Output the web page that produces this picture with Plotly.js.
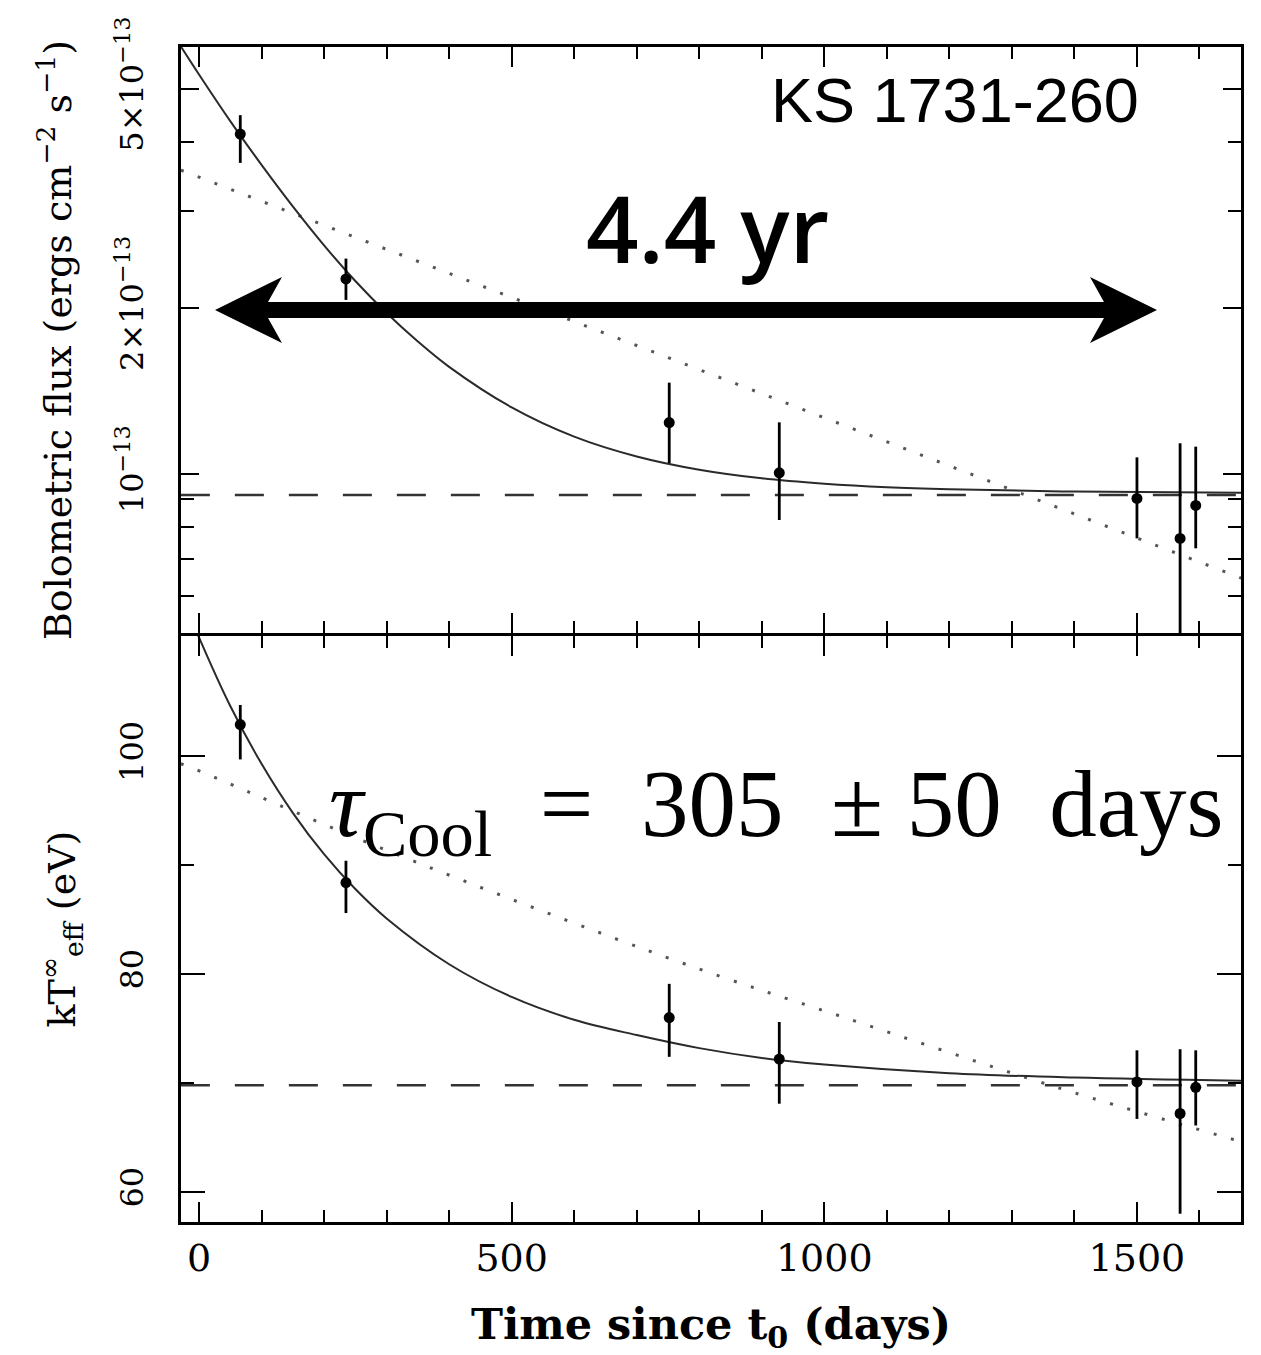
<!DOCTYPE html>
<html><head><meta charset="utf-8">
<script src="https://cdn.plot.ly/plotly-3.0.1.min.js"></script>
<style>html,body{margin:0;padding:0;background:#fff}#chart{width:1261px;height:1355px}</style>
</head><body><div id="chart"></div>
<script>
// ---- data (flux in units of 1e-13 erg cm^-2 s^-1, temperature in eV, time in days) ----
const FLUX_UNIT = 1e-13;
const obsDays   = [66, 235, 752, 928, 1500, 1569, 1594];
const fluxVal   = [4.14, 2.26, 1.24, 1.005, 0.903, 0.764, 0.877];
const fluxHi    = [4.48, 2.46, 1.465, 1.241, 1.072, 1.137, 1.121];
const fluxLo    = [3.67, 2.07, 1.046, 0.825, 0.764, 0.50, 0.733];
const tempVal   = [102.9, 88.4, 76.0, 72.2, 70.1, 67.2, 69.6];
const tempHi    = [104.7, 90.4, 79.1, 75.6, 73.0, 73.1, 73.0];
const tempLo    = [99.7, 85.6, 72.4, 68.1, 66.7, 58.0, 66.1];

// exponential-decay-to-constant fit curves
const fluxFitDays = [-29, 0, 50, 100, 150, 200, 250, 300, 350, 400, 500, 600, 700, 800, 900, 1000, 1100, 1200, 1400, 1667];
const fluxFit     = [5.97, 5.31, 4.37, 3.64, 3.06, 2.60, 2.24, 1.96, 1.74, 1.565, 1.321, 1.169, 1.076, 1.018, 0.982, 0.960, 0.946, 0.938, 0.929, 0.925];
const tempFitDays = [-5, 0, 50, 100, 150, 200, 250, 300, 400, 500, 600, 700, 800, 900, 1000, 1200, 1400, 1667];
const tempFit     = [111.6, 110.9, 104.6, 99.3, 94.8, 91.0, 87.8, 85.1, 80.9, 77.9, 75.8, 74.4, 73.2, 72.3, 71.7, 70.9, 70.5, 70.2];

// simple exponential (dotted) curves
const fluxExpDays = [-29, 1667];
const fluxExp     = [3.56, 0.647];
const tempExpDays = [-29, -9, 300, 769, 1022, 1372, 1667];
const tempExp     = [99.3, 98.87, 91.36, 81.09, 76.2, 69.6, 64.6];

// quiescent (dashed) levels
const baseDays = [-29, 1667];
const fluxBase = 0.916;
const tempBase = 69.8;

// axis ticks
const xMajor = [0, 500, 1000, 1500];
const fluxTickVals = [1, 2, 5];
const fluxTickText = ['10<sup>−13</sup>', '2×10<sup>−13</sup>', '5×10<sup>−13</sup>'];
const fluxMinorVals = [0.6, 0.7, 0.8, 0.9, 3, 4];
const tempTickVals = [60, 80, 100];
const tempMinorVals = [70, 90];

// ---- traces ----
const u = v => v.map(a => a * FLUX_UNIT);
const lineCol = '#2a2a2a';
const traces = [
  {x: fluxExpDays, y: u(fluxExp), xaxis:'x', yaxis:'y', mode:'lines', line:{color:'#555', width:3, dash:'3px,15px'}, hoverinfo:'skip'},
  {x: baseDays, y: u([fluxBase, fluxBase]), xaxis:'x', yaxis:'y', mode:'lines', line:{color:'#333', width:2.5, dash:'29px,25px'}, hoverinfo:'skip'},
  {x: fluxFitDays, y: u(fluxFit), xaxis:'x', yaxis:'y', mode:'lines', line:{color:lineCol, width:2, shape:'spline'}, hoverinfo:'skip'},
  {x: obsDays, y: u(fluxVal), xaxis:'x', yaxis:'y', mode:'markers',
   marker:{color:'#000', size:11},
   error_y:{type:'data', symmetric:false,
     array: fluxHi.map((h,i)=> (h - fluxVal[i]) * FLUX_UNIT),
     arrayminus: fluxLo.map((l,i)=> (fluxVal[i] - l) * FLUX_UNIT),
     color:'#000', thickness:2.8, width:0}},
  {x: tempExpDays, y: tempExp, xaxis:'x2', yaxis:'y2', mode:'lines', line:{color:'#555', width:3, dash:'3px,15px', shape:'spline'}, hoverinfo:'skip'},
  {x: baseDays, y: [tempBase, tempBase], xaxis:'x2', yaxis:'y2', mode:'lines', line:{color:'#333', width:2.5, dash:'29px,25px'}, hoverinfo:'skip'},
  {x: tempFitDays, y: tempFit, xaxis:'x2', yaxis:'y2', mode:'lines', line:{color:lineCol, width:2, shape:'spline'}, hoverinfo:'skip'},
  {x: obsDays, y: tempVal, xaxis:'x2', yaxis:'y2', mode:'markers',
   marker:{color:'#000', size:11},
   error_y:{type:'data', symmetric:false,
     array: tempHi.map((h,i)=> h - tempVal[i]),
     arrayminus: tempLo.map((l,i)=> tempVal[i] - l),
     color:'#000', thickness:2.8, width:0}}
];

// ---- layout ----
const W = 1261, H = 1355, ML = 181, MR = 20, MT = 47, MB = 133;
const PW = W - ML - MR, PH = H - MT - MB;
const px = X => (X - ML) / PW;
const py = Y => (H - MB - Y) / PH;

const axisCommon = {
  showline:true, linewidth:3, linecolor:'#000', mirror:'ticks',
  ticks:'inside', tickcolor:'#000', tickwidth:2,
  showgrid:false, zeroline:false, automargin:false
};

const arrowPts = [[215,310],[282,277],[268,302],[1104,302],[1090,277],[1157,310],[1090,343],[1104,318],[268,318],[282,343]];
const arrowPath = 'M' + arrowPts.map(p => px(p[0]).toFixed(5) + ',' + py(p[1]).toFixed(5)).join(' L') + ' Z';

const layout = {
  width: W, height: H,
  margin: {l:ML, r:MR, t:MT, b:MB, pad:0},
  paper_bgcolor:'#fff', plot_bgcolor:'#fff',
  showlegend:false,
  font:{family:'DejaVu Serif', color:'#000'},
  xaxis: Object.assign({}, axisCommon, {
    domain:[0,1], anchor:'y', range:[-28.8, 1666.4],
    tickmode:'array', tickvals:xMajor, ticklen:20, showticklabels:false,
    minor:{ticks:'inside', tick0:0, dtick:100, ticklen:12, tickwidth:2, tickcolor:'#000'}
  }),
  xaxis2: Object.assign({}, axisCommon, {
    domain:[0,1], anchor:'y2', matches:'x', range:[-28.8, 1666.4],
    tickmode:'array', tickvals:xMajor, ticklen:20, showticklabels:true,
    tickfont:{size:38, family:'DejaVu Serif'}, ticklabelstandoff:0,
    minor:{ticks:'inside', tick0:0, dtick:100, ticklen:12, tickwidth:2, tickcolor:'#000'},
    title:{text:'Time since t<sub>0</sub> (days)', font:{size:43, family:'DejaVu Serif', weight:'bold'}, standoff:32}
  }),
  yaxis: Object.assign({}, axisCommon, {
    domain:[py(633) , 1], anchor:'x', type:'log', range:[-13.2886, -12.225],
    tickmode:'array', tickvals:u(fluxTickVals), ticktext:fluxTickText, ticklen:18,
    tickangle:-90, tickfont:{size:32, family:'DejaVu Serif'}, ticklabelstandoff:22,
    minor:{ticks:'inside', tickmode:'array', tickvals:u(fluxMinorVals), ticklen:13, tickwidth:2, tickcolor:'#000'},
    title:{text:'Bolometric flux (ergs cm<sup>−2</sup> s<sup>−1</sup>)', font:{size:38, family:'DejaVu Serif'}, standoff:26}
  }),
  yaxis2: Object.assign({}, axisCommon, {
    domain:[0, py(636)], anchor:'x2', range:[57.24, 111.03],
    tickmode:'array', tickvals:tempTickVals, ticklen:24,
    tickangle:-90, tickfont:{size:32, family:'DejaVu Serif'}, ticklabelstandoff:22,
    minor:{ticks:'inside', tickmode:'array', tickvals:tempMinorVals, ticklen:13, tickwidth:2, tickcolor:'#000'},
    title:{text:'kT<sup>∞</sup><sub>eff</sub> (eV)', font:{size:38, family:'DejaVu Serif'}, standoff:26}
  }),
  shapes: [
    {type:'path', xref:'paper', yref:'paper', path:arrowPath, fillcolor:'#000', line:{width:0}, layer:'above'}
  ],
  annotations: [
    {xref:'paper', yref:'paper', x:px(955), y:py(100), xanchor:'center', yanchor:'middle', showarrow:false,
     text:'KS 1731-260', font:{family:'Liberation Sans', size:63, color:'#000'}},
    {xref:'paper', yref:'paper', x:px(707), y:py(227), xanchor:'center', yanchor:'middle', showarrow:false,
     text:'4.4 yr', font:{family:'Open Sans', size:92, color:'#000', weight:600}},
    {xref:'paper', yref:'paper', x:px(776), y:py(810), xanchor:'center', yanchor:'middle', showarrow:false,
     text:'<i>τ</i><sub>Cool</sub>\u2002=\u2002305\u2002± 50\u2002days', font:{family:'Liberation Serif', size:95, color:'#000'}}
  ]
};

Plotly.newPlot('chart', traces, layout, {staticPlot:true, displayModeBar:false});
</script>
</body></html>
